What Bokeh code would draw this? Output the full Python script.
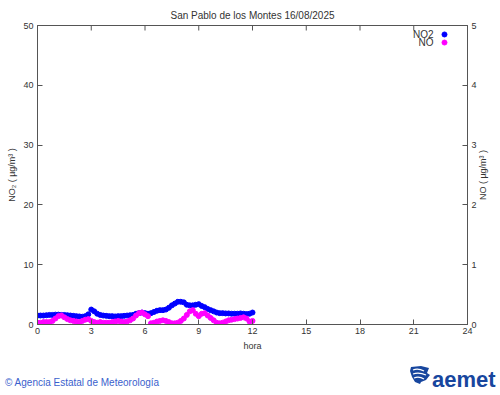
import math
from bokeh.plotting import figure
from bokeh.layouts import column
from bokeh.models import Range1d, LinearAxis, Label, FixedTicker, ColumnDataSource, Div
from bokeh.embed import file_html
from bokeh.resources import INLINE

title_text = "San Pablo de los Montes 16/08/2025"
x_label = "hora"
left_label = "NO\u2082 ( \u00b5g/m\u00b3 )"
right_label = "NO ( \u00b5g/m\u00b3 )"
footer_text = "\u00a9 Agencia Estatal de Meteorolog\u00eda"
logo_text = "aemet"
x_ticks = [0, 3, 6, 9, 12, 15, 18, 21, 24]
left_ticks = [0, 10, 20, 30, 40, 50]
right_ticks = [0, 1, 2, 3, 4, 5]

# 10-minute samples from 00:00 to 12:00
minutes = list(range(0, 721, 10))

no2 = [1.5, 1.5, 1.5, 1.55, 1.6, 1.6, 1.65,
       1.65, 1.6, 1.6, 1.55, 1.5, 1.45,
       1.4, 1.35, 1.3, 1.4, 1.7,
       2.5, 2.2, 1.8, 1.6, 1.5, 1.45, 1.4, 1.4, 1.35, 1.4, 1.4, 1.45,
       1.5, 1.55, 1.6, 1.8, 1.9, 2.0, 1.9, 1.8, 1.9, 2.1, 2.3, 2.4,
       2.4, 2.5, 2.8, 3.2, 3.5, 3.8, 3.8, 3.7, 3.3, 3.2, 3.2, 3.3,
       3.4, 3.1, 2.9, 2.6, 2.4, 2.2, 2.0, 1.9, 1.9, 1.85, 1.85, 1.8,
       1.8, 1.8, 1.85, 1.8, 1.75, 1.8, 2.0]

no = [0.03, 0.03, 0.04, 0.04, 0.04, 0.06, 0.10,
      0.14, 0.15, 0.12, 0.09, 0.07, 0.06,
      0.05, 0.04, 0.06, 0.08, 0.09,
      0.06, 0.04, 0.03, 0.04, 0.03, 0.03, 0.03, 0.04, 0.05, 0.06, 0.05, 0.04,
      0.05, 0.07, 0.10, 0.15, 0.19, 0.20, 0.17, 0.14, 0.02, 0.03, 0.05, 0.06,
      0.07, 0.06, 0.04, 0.02, 0.02, 0.03, 0.06, 0.10, 0.16, 0.22, 0.24, 0.18,
      0.14, 0.18, 0.19, 0.15, 0.11, 0.07, 0.03, 0.02, 0.03, 0.05, 0.07, 0.08,
      0.09, 0.10, 0.11, 0.12, 0.10, 0.05, 0.06]

hours = [m / 60 for m in minutes]
src = ColumnDataSource(data=dict(h=hours, no2=no2, no=no))

FONT = "Liberation Sans"
AXC = "#555555"
TXT = "#333333"

W, H, FOOT = 500, 395, 40
ML, MR, MT, MB = 37, 33, 25, 31
PH = H - FOOT
FW, FH = W - ML - MR, PH - MT - MB

p = figure(width=W, height=PH, output_backend="svg", toolbar_location=None,
           x_range=Range1d(0, 24), y_range=Range1d(0, 50),
           min_border_left=ML, min_border_right=MR, min_border_top=MT,
           min_border_bottom=MB, x_axis_label=x_label, y_axis_label=left_label)
p.extra_y_ranges = {"no": Range1d(0, 5)}
p.grid.visible = False
p.outline_line_color = AXC
p.background_fill_color = "white"
p.border_fill_color = "white"

p.title.text = title_text
p.title.align = "center"
p.title.text_font = FONT
p.title.text_font_size = "10px"
p.title.text_font_style = "normal"
p.title.text_color = TXT
p.title.standoff = 10

right_axis = LinearAxis(y_range_name="no")
p.add_layout(right_axis, "right")

def style(ax, ticks):
    ax.ticker = FixedTicker(ticks=ticks)
    ax.major_tick_in = 5
    ax.major_tick_out = 0
    ax.minor_tick_in = 0
    ax.minor_tick_out = 0
    ax.axis_line_color = AXC
    ax.major_tick_line_color = AXC
    ax.major_label_text_font = FONT
    ax.major_label_text_font_size = "9px"
    ax.major_label_text_color = TXT
    ax.major_label_standoff = 4
    ax.axis_label_text_font = FONT
    ax.axis_label_text_font_size = "9px"
    ax.axis_label_text_font_style = "normal"
    ax.axis_label_text_color = TXT
    ax.axis_label_standoff = 3

style(p.below[0], x_ticks)
style(p.left[0], left_ticks)
style(right_axis, right_ticks)
p.below[0].major_label_standoff = 3
p.below[0].axis_label_standoff = 4

# top border ticks (mirror of the x ticks)
xr, yr = p.x_range, p.y_range
tick_len = (yr.end - yr.start) * 5 / FH
p.segment(x0=x_ticks, y0=[yr.end] * len(x_ticks), x1=x_ticks,
          y1=[yr.end - tick_len] * len(x_ticks), line_color=AXC, line_width=1)

p.scatter("h", "no2", source=src, size=5, color="#0000ff")
p.scatter("h", "no", source=src, size=5, color="#ff00ff", y_range_name="no")

# legend (text left of marker, as in the reference)
lx_frac, ly1_frac, ly2_frac, tx_frac = 0.9465, 0.970, 0.943, 0.921
lx = xr.start + (xr.end - xr.start) * lx_frac
tx = xr.start + (xr.end - xr.start) * tx_frac
ly1 = yr.start + (yr.end - yr.start) * ly1_frac
ly2 = yr.start + (yr.end - yr.start) * ly2_frac
leg = ColumnDataSource(data=dict(x=[lx, lx], y=[ly1, ly2], c=["#0000ff", "#ff00ff"]))
p.scatter("x", "y", source=leg, size=5, color="c")
for yy, t in ((ly1, "NO2"), (ly2, "NO")):
    p.add_layout(Label(x=tx, y=yy, text=t, text_align="right", text_baseline="middle",
                       text_font=FONT, text_font_size="10px", text_color=TXT))

# footer strip (credit on the left, logo on the right) plus right-axis title
rl_top = (MT + FH / 2) - PH
icon = (
    '<svg style="position:absolute;left:409px;top:10px;" width="22" height="20" '
    'viewBox="0 0 22 20">'
    '<path d="M2 2 L12 1 L20 3 L18 8 L21 10 L17 15 L12 17 L11 19 L6 17 L3 12 L1 6 Z" '
    'fill="#17469e"/>'
    '<path d="M4 5 Q9 3 15 6 M4 9 Q10 7 17 10 M5 13 Q10 11 15 14" stroke="white" '
    'stroke-width="1.3" fill="none"/>'
    '</svg>'
)
html = (
    '<div style="position:relative;width:500px;height:40px;margin:0;padding:0;'
    'font-family:\'Liberation Sans\',Arial,sans-serif;">'
    '<span style="position:absolute;left:5px;top:23px;font-size:10px;line-height:1;'
    'color:#3a5fcd;white-space:nowrap;">' + footer_text + '</span>'
    + icon +
    '<span style="position:absolute;left:432px;top:14px;font-size:22px;line-height:1;'
    'font-weight:bold;color:#17469e;white-space:nowrap;">' + logo_text + '</span>'
    '<span style="position:absolute;left:483px;top:' + str(rl_top) + 'px;'
    'transform:translate(-50%,-50%) rotate(-90deg);font-size:9px;line-height:1;'
    'color:#333333;white-space:nowrap;">' + right_label + '</span>'
    '</div>'
)
foot = Div(text=html, width=W, height=FOOT, margin=(0, 0, 0, 0))

layout = column(p, foot, spacing=0)
open("out.html", "w").write(file_html(layout, INLINE))
